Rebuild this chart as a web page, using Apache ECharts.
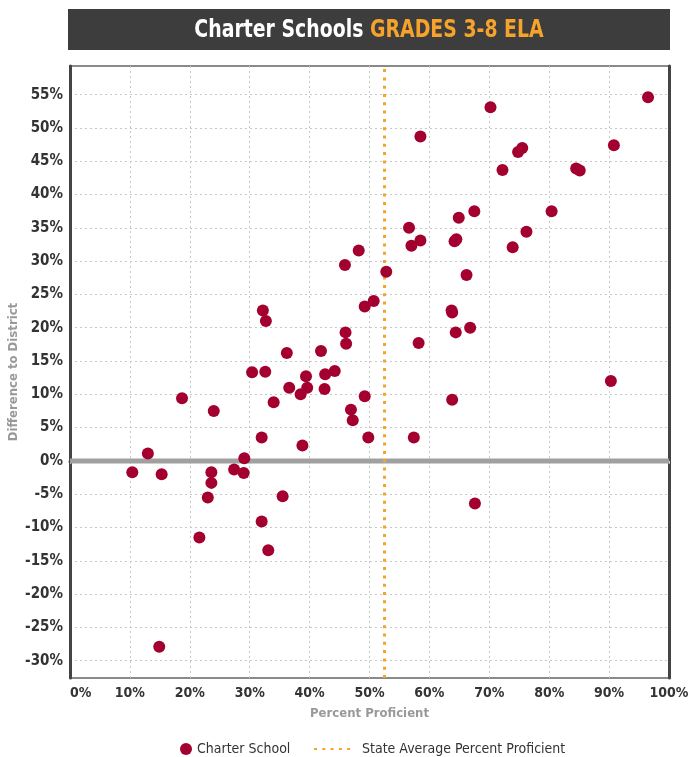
<!DOCTYPE html>
<html>
<head>
<meta charset="utf-8">
<script src="https://cdn.jsdelivr.net/npm/echarts@6/dist/echarts.min.js"></script>
<style>
  html, body { margin: 0; padding: 0; background: #fff; }
  #main { width: 688px; height: 757px; }
</style>
</head>
<body>
<div id="main"></div>
<script>
// percent proficient (x) and difference to district (y), one pair per school
var proficient = [
  10.4, 13.0, 15.3, 14.9, 18.7, 21.6, 23.0, 23.6, 23.6, 24.0,
  27.4, 29.1, 29.0, 30.4, 32.0, 32.0, 32.2, 32.7, 32.6, 33.1,
  34.0, 35.5, 36.2, 36.6, 38.5, 38.8, 39.4, 39.6, 41.9, 42.6,
  42.5, 44.2, 45.9, 46.0, 46.1, 46.9, 47.2, 48.2, 49.2, 49.2,
  49.8, 50.7, 52.8, 56.6, 57.0, 57.4, 58.2, 58.5, 58.5, 63.7,
  63.8, 63.8, 64.2, 64.5, 64.4, 64.9, 66.2, 66.8, 67.5, 67.6,
  70.2, 72.2, 73.9, 74.8, 75.5, 76.2, 80.4, 84.5, 85.1, 90.3,
  90.8, 96.5
];
var diffToDistrict = [
  -1.7, 1.1, -2.0, -27.9, 9.4, -11.5, -5.5, -3.3, -1.7, 7.5,
  -1.3, 0.4, -1.8, 13.3, 3.5, -9.1, 22.6, 21.0, 13.4, -13.4,
  8.8, -5.3, 16.2, 11.0, 10.0, 2.3, 12.7, 11.0, 16.5, 13.0,
  10.8, 13.5, 29.4, 19.3, 17.6, 7.7, 6.1, 31.6, 23.2, 9.7,
  3.5, 24.0, 28.4, 35.0, 32.3, 3.5, 17.7, 33.1, 48.7, 22.6,
  22.3, 9.2, 33.0, 33.3, 19.3, 36.5, 27.9, 20.0, 37.5, -6.4,
  53.1, 43.7, 32.1, 46.4, 47.0, 34.4, 37.5, 43.9, 43.6, 12.0,
  47.4, 54.6
];
var stateAverage = 52.5;
var yTicks = [-30, -25, -20, -15, -10, -5, 0, 5, 10, 15, 20, 25, 30, 35, 40, 45, 50, 55];
var yMin = -32.6, yMax = 59.3;

var narrow = "'Liberation Sans Narrow', 'DejaVu Sans Condensed', Roboto, sans-serif";

var points = [];
for (var i = 0; i < proficient.length; i++) {
  points.push([proficient[i], diffToDistrict[i]]);
}

var chart = echarts.init(document.getElementById('main'));

var option = {
  animation: false,
  backgroundColor: '#fff',
  textStyle: { fontFamily: narrow },
  graphic: [
    {
      type: 'rect',
      shape: { x: 68, y: 9, width: 602, height: 41 },
      style: { fill: '#3d3d3d' },
      z: 0
    },
    {
      type: 'text',
      x: 369, y: 30,
      scaleX: 0.84,
      style: {
        text: '{w|Charter Schools }{o|GRADES 3-8 ELA}',
        align: 'center',
        verticalAlign: 'middle',
        rich: {
          w: { fill: '#fff', fontSize: 25, fontWeight: 'bold', fontFamily: narrow },
          o: { fill: '#f5a32a', fontSize: 25, fontWeight: 'bold', fontFamily: narrow }
        }
      },
      z: 1
    },
    {
      // y axis title
      type: 'text',
      x: 14, y: 372,
      rotation: Math.PI / 2,
      style: {
        text: 'Difference to District',
        align: 'center',
        verticalAlign: 'middle',
        fill: '#999', fontSize: 13, fontWeight: 'bold', fontFamily: narrow
      }
    }
  ],
  grid: {
    left: 70, right: 19, top: 66, bottom: 79,
    outerBoundsMode: 'none',
    containLabel: false,
    show: true,
    borderColor: '#8a8a8a',
    borderWidth: 2
  },
  legend: [
    {
      data: ['Charter School'],
      left: 175, top: 737,
      itemWidth: 12, itemHeight: 12,
      textStyle: { color: '#333', fontSize: 14, fontFamily: narrow }
    },
    {
      data: ['State Average Percent Proficient'],
      left: 308, top: 737,
      itemWidth: 40, itemHeight: 12,
      itemStyle: { opacity: 0 },
      textStyle: { color: '#333', fontSize: 14, fontFamily: narrow, padding: [0, 0, 0, 3] }
    }
  ],
  xAxis: {
    type: 'value',
    min: 0, max: 100, interval: 10,
    name: 'Percent Proficient',
    nameLocation: 'middle',
    nameGap: 29,
    nameTextStyle: { color: '#999', fontSize: 13, fontWeight: 'bold', fontFamily: narrow },
    axisLine: { show: true, lineStyle: { color: '#444', width: 3 } },
    axisTick: { show: true, length: 3, lineStyle: { color: '#ccc' } },
    axisLabel: {
      formatter: '{value}%',
      color: '#333', fontSize: 14, fontWeight: 'bold', fontFamily: narrow,
      margin: 8,
      alignMinLabel: 'left'
    },
    splitLine: { show: true, lineStyle: { color: '#c8c8c8', type: [2, 3], width: 1 } }
  },
  yAxis: [
    {
      type: 'value',
      min: yMin, max: yMax,
      axisLine: { show: true, lineStyle: { color: '#444', width: 3 } },
      axisTick: { show: false, customValues: yTicks },
      axisLabel: {
        customValues: yTicks,
        formatter: '{value}%',
        color: '#333', fontSize: 15, fontWeight: 'bold', fontFamily: narrow,
        margin: 7
      },
      splitLine: { show: true, lineStyle: { color: '#c8c8c8', type: [2, 3], width: 1 } }
    },
    {
      type: 'value',
      min: yMin, max: yMax,
      position: 'right',
      axisLine: { show: true, lineStyle: { color: '#444', width: 3 } },
      axisTick: { show: false },
      axisLabel: { show: false },
      splitLine: { show: false }
    }
  ],
  series: [
    {
      name: 'zero',
      type: 'line',
      data: [[0, 0], [100, 0]],
      symbol: 'none',
      silent: true,
      lineStyle: { color: '#a0a0a0', width: 5 },
      z: 1
    },
    {
      name: 'State Average Percent Proficient',
      type: 'line',
      data: [[stateAverage, yMin], [stateAverage, yMax]],
      symbol: 'none',
      color: '#f5a32a',
      lineStyle: { color: '#f5a32a', width: 3, type: [3, 5.3] },
      z: 2
    },
    {
      name: 'Charter School',
      type: 'scatter',
      data: points,
      symbol: 'circle',
      symbolSize: 12,
      itemStyle: { color: '#a3002f', opacity: 1 },
      z: 3
    }
  ]
};

chart.setOption(option);
</script>
</body>
</html>
